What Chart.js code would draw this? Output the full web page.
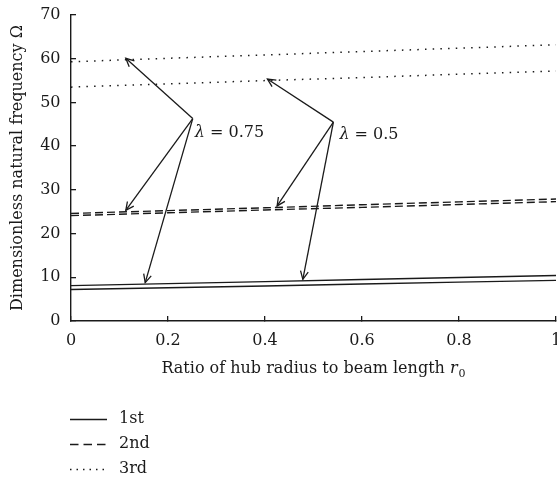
<!DOCTYPE html>
<html>
<head>
<meta charset="utf-8">
<script src="https://cdn.jsdelivr.net/npm/chart.js@4.4.1/dist/chart.umd.min.js"></script>
<style>
  html, body { margin: 0; padding: 0; background: #fff; }
  canvas { display: block; }
</style>
</head>
<body>
<canvas id="chart" width="557" height="477"></canvas>
<script>
// Ratio of hub radius to beam length r0
const ratios = [0, 0.2, 0.4, 0.6, 0.8, 1.0];
const xTickLabels = ['0', '0.2', '0.4', '0.6', '0.8', '1'];
const modeNames = ['1st', '2nd', '3rd'];

// Dimensionless natural frequency for lambda = 0.75
const first075  = [8.1, 8.55, 9.0, 9.5, 9.95, 10.4];
const second075 = [24.6, 25.25, 25.9, 26.6, 27.25, 27.9];
const third075  = [59.3, 60.1, 60.85, 61.65, 62.4, 63.2];

// Dimensionless natural frequency for lambda = 0.5
const first050  = [7.2, 7.6, 8.0, 8.45, 8.9, 9.3];
const second050 = [24.1, 24.75, 25.4, 26.0, 26.65, 27.3];
const third050  = [53.5, 54.25, 55.0, 55.7, 56.45, 57.2];

const FONT = 'DejaVu Serif';
const INK = '#1a1a1a';

const modeStyles = [
  { borderDash: [], keyDash: [] },
  { borderDash: [8, 4], keyDash: [8.5, 5] },
  { borderDash: [1.5, 6.2], keyDash: [1.5, 5] }
];

function points(ys) { return ratios.map((x, i) => ({ x, y: ys[i] })); }

function series(key, ys, mode) {
  return {
    label: modeNames[mode],
    key,
    data: points(ys),
    borderColor: INK,
    borderWidth: mode === 2 ? 1.5 : 1.4,
    borderDash: modeStyles[mode].borderDash,
    pointRadius: 0,
    tension: 0,
    fill: false
  };
}

const datasets = [
  series('first075', first075, 0),
  series('first050', first050, 0),
  series('second075', second075, 1),
  series('second050', second050, 1),
  series('third075', third075, 2),
  series('third050', third050, 2)
];

// Callouts: each label points at the curves of its lambda value
const callouts = [
  { text: '0.75', apex: { x: 0.251, y: 46.3 }, textDx: 2, textDy: 18,
    targets: [ { key: 'third075', x: 0.113 }, { key: 'second075', x: 0.113 }, { key: 'first075', x: 0.153 } ] },
  { text: '0.5', apex: { x: 0.541, y: 45.5 }, textDx: 6, textDy: 17,
    targets: [ { key: 'third050', x: 0.405 }, { key: 'second075', x: 0.425 }, { key: 'first075', x: 0.478 } ] }
];

function valueAt(key, x) {
  const ds = datasets.find(d => d.key === key).data;
  for (let i = 0; i < ds.length - 1; i++) {
    if (x >= ds[i].x && x <= ds[i + 1].x) {
      const t = (x - ds[i].x) / (ds[i + 1].x - ds[i].x);
      return ds[i].y + t * (ds[i + 1].y - ds[i].y);
    }
  }
  return ds[ds.length - 1].y;
}

function drawArrow(ctx, x0, y0, x1, y1) {
  ctx.beginPath();
  ctx.moveTo(x0, y0);
  ctx.lineTo(x1, y1);
  ctx.stroke();
  const a = Math.atan2(y1 - y0, x1 - x0), L = 9, w = 0.45;
  ctx.beginPath();
  ctx.moveTo(x1 - L * Math.cos(a - w), y1 - L * Math.sin(a - w));
  ctx.lineTo(x1, y1);
  ctx.lineTo(x1 - L * Math.cos(a + w), y1 - L * Math.sin(a + w));
  ctx.stroke();
}

const calloutPlugin = {
  id: 'callouts',
  afterDatasetsDraw(chart) {
    const { ctx, scales: { x, y } } = chart;
    ctx.save();
    ctx.strokeStyle = INK;
    ctx.lineWidth = 1.3;
    ctx.setLineDash([]);
    callouts.forEach(c => {
      const ax = x.getPixelForValue(c.apex.x), ay = y.getPixelForValue(c.apex.y);
      c.targets.forEach(t => {
        const tx = x.getPixelForValue(t.x);
        const ty = y.getPixelForValue(valueAt(t.key, t.x)) - 1.5;
        drawArrow(ctx, ax, ay, tx, ty);
      });
      ctx.fillStyle = INK;
      ctx.textBaseline = 'alphabetic';
      ctx.textAlign = 'left';
      let px = ax + c.textDx;
      const py = ay + c.textDy;
      ctx.font = 'italic 16px "' + FONT + '"';
      ctx.fillText('λ', px, py);
      px += ctx.measureText('λ').width;
      ctx.font = '16px "' + FONT + '"';
      ctx.fillText(' = ' + c.text, px, py);
    });
    ctx.restore();
  }
};

// X-axis title with subscript, plus the line-style key beneath the plot
const titleAndKeyPlugin = {
  id: 'titleAndKey',
  afterDraw(chart) {
    const { ctx, chartArea } = chart;
    ctx.save();
    ctx.fillStyle = INK;
    ctx.textBaseline = 'alphabetic';
    ctx.textAlign = 'left';
    const main = 'Ratio of hub radius to beam length ';
    const fMain = '16px "' + FONT + '"', fIt = 'italic 16px "' + FONT + '"', fSub = '11px "' + FONT + '"';
    ctx.font = fMain; const w1 = ctx.measureText(main).width;
    ctx.font = fIt; const w2 = ctx.measureText('r').width;
    ctx.font = fSub; const w3 = ctx.measureText('0').width;
    const total = w1 + w2 + 1 + w3;
    let tx = (chartArea.left + chartArea.right) / 2 - total / 2;
    const ty = chartArea.bottom + 52;
    ctx.font = fMain; ctx.fillText(main, tx, ty); tx += w1;
    ctx.font = fIt; ctx.fillText('r', tx, ty); tx += w2 + 1;
    ctx.font = fSub; ctx.fillText('0', tx, ty + 4);

    // key
    ctx.strokeStyle = INK;
    ctx.lineWidth = 1.3;
    modeNames.forEach((name, i) => {
      const base = 423 + i * 25;
      ctx.setLineDash(modeStyles[i].keyDash);
      ctx.beginPath();
      ctx.moveTo(70, base - 3.5);
      ctx.lineTo(107, base - 3.5);
      ctx.stroke();
      ctx.setLineDash([]);
      ctx.font = fMain;
      ctx.fillText(name, 119, base);
    });
    ctx.restore();
  }
};

new Chart(document.getElementById('chart'), {
  type: 'line',
  data: { datasets },
  plugins: [calloutPlugin, titleAndKeyPlugin],
  options: {
    responsive: false,
    animation: false,
    devicePixelRatio: 1,
    layout: { padding: { left: 0, right: 1, top: 15, bottom: 96 } },
    plugins: { legend: { display: false }, tooltip: { enabled: false } },
    scales: {
      x: {
        type: 'linear', min: 0, max: 1,
        border: { color: INK, width: 1.4 },
        grid: { drawOnChartArea: false, drawTicks: true, tickLength: -5, color: INK, lineWidth: 1.3 },
        ticks: {
          stepSize: 0.2, padding: 15, color: INK, maxRotation: 0,
          font: { family: FONT, size: 16 },
          callback: (v) => {
            const i = ratios.findIndex(r => Math.abs(r - v) < 1e-6);
            return i >= 0 ? xTickLabels[i] : '';
          }
        },
        afterFit(s) { s.height = 60; s.paddingLeft = 0; s.paddingRight = 0; }
      },
      y: {
        min: 0, max: 70,
        border: { color: INK, width: 1.4 },
        grid: { drawOnChartArea: false, drawTicks: true, tickLength: -5, color: INK, lineWidth: 1.3 },
        ticks: { stepSize: 10, padding: 15.5, color: INK, font: { family: FONT, size: 16 } },
        title: {
          display: true,
          text: 'Dimensionless natural frequency Ω',
          color: INK,
          font: { family: FONT, size: 16 },
          padding: { top: 8, bottom: 0 }
        },
        afterFit(s) { s.width = 71; s.paddingTop = 0; s.paddingBottom = 0; }
      }
    }
  }
});
</script>
</body>
</html>
